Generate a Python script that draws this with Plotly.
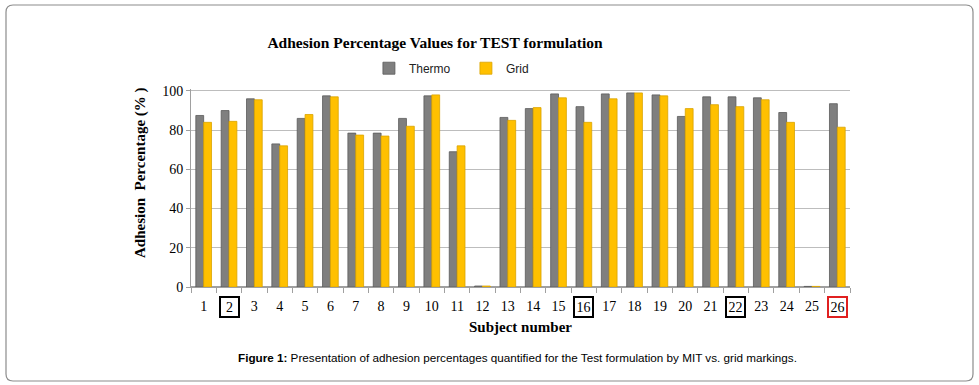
import plotly.graph_objects as go

subjects = [str(i) for i in range(1, 27)]
thermo = [87.5, 90, 96, 73, 86, 97.5, 78.5, 78.5, 86, 97.5, 69, 0.5, 86.5, 91,
          98.5, 92, 98.5, 99, 98, 87, 97, 97, 96.5, 89, 0.3, 93.5]
grid = [84, 84.5, 95.5, 72, 88, 97, 77.5, 77, 82, 98, 72, 0.5, 85, 91.5,
        96.5, 84, 96, 99, 97.5, 91, 93, 92, 95.5, 84, 0.3, 81.5]
boxed_black = ["2", "16", "22"]
boxed_red = ["26"]
y_ticks = [0, 20, 40, 60, 80, 100]

SERIF = "Liberation Serif, Times New Roman, serif"
SANS = "Liberation Sans, Arial, sans-serif"

fig = go.Figure()
fig.add_trace(go.Bar(x=subjects, y=thermo, name="Thermo",
                     marker=dict(color="#7F7F7F", line=dict(color="#5A5A5A", width=0.8))))
fig.add_trace(go.Bar(x=subjects, y=grid, name="Grid",
                     marker=dict(color="#FFC000", line=dict(color="#D9A300", width=0.8))))

ticktext = [" " if s in boxed_black + boxed_red else s for s in subjects]

fig.update_layout(
    width=979, height=385,
    margin=dict(l=191, r=129, t=89, b=98, autoexpand=False),
    paper_bgcolor="white", plot_bgcolor="white",
    barmode="group", bargap=0.38, bargroupgap=0.0,
    showlegend=True,
    legend=dict(orientation="h", x=0.27, y=1.105, xanchor="left", yanchor="middle",
                entrywidth=52, font=dict(family=SANS, size=12, color="#222"),
                bgcolor="rgba(0,0,0,0)", itemclick=False),
    title=dict(text="<b>Adhesion Percentage Values for TEST formulation</b>",
               x=435 / 979, xanchor="center", y=1 - 43 / 385, yanchor="middle",
               font=dict(family=SERIF, size=15.5, color="black")),
    xaxis=dict(tickmode="array", tickvals=subjects, ticktext=ticktext,
               tickfont=dict(family=SERIF, size=14, color="black"),
               showline=True, linecolor="#A0A0A0", linewidth=1,
               ticks="outside", tickson="boundaries", ticklen=5, tickcolor="#A0A0A0",
               ticklabelstandoff=6,
               showgrid=False, automargin=False,
               title=dict(text="<b>Subject number</b>", standoff=8,
                          font=dict(family=SERIF, size=15, color="black"))),
    yaxis=dict(range=[0, 101], tickvals=y_ticks, automargin=False,
               tickfont=dict(family=SERIF, size=14, color="black"),
               showline=True, linecolor="#A0A0A0", linewidth=1,
               ticks="outside", ticklen=4, tickcolor="#A0A0A0",
               showgrid=True, gridcolor="#BDBDBD", gridwidth=1.2,
               zeroline=True, zerolinecolor="#A0A0A0"),
)

annotations = []
for i, s in enumerate(subjects):
    if s in boxed_black or s in boxed_red:
        label = s if len(s) > 1 else "&nbsp;" + s + "&nbsp;"
        annotations.append(dict(
            x=i, xref="x", y=-(307 - 287) / 198, yref="paper", text=label, showarrow=False,
            font=dict(family=SERIF, size=14, color="black"),
            bordercolor="#E02020" if s in boxed_red else "black",
            borderwidth=2, borderpad=1.5, yanchor="middle"))
annotations.append(dict(
    x=(140 - 191) / 659, xref="paper", xanchor="center",
    y=(287 - 173) / 198, yref="paper", yanchor="middle", textangle=-90,
    showarrow=False, text="<b>Adhesion  Percentage (% )</b>",
    font=dict(family=SERIF, size=15, color="black")))
annotations.append(dict(
    x=485 / 979, xref="paper", xanchor="center", y=-(357 - 287) / 198, yref="paper",
    yanchor="middle", showarrow=False,
    text="<b>Figure 1:</b> Presentation of adhesion percentages quantified for the Test formulation by MIT vs. grid markings.",
    font=dict(family=SANS, size=11.7, color="black")))
fig.update_layout(annotations=annotations)

# outer rounded frame (pixel -> paper conversion)
def px(x):
    return (x - 191) / 659

def py(y):
    return (287 - y) / 198

L, R, T, B, r = 6, 973, 5, 381, 7
path = (f"M {px(L + r)},{py(T)} L {px(R - r)},{py(T)} "
        f"Q {px(R)},{py(T)} {px(R)},{py(T + r)} L {px(R)},{py(B - r)} "
        f"Q {px(R)},{py(B)} {px(R - r)},{py(B)} L {px(L + r)},{py(B)} "
        f"Q {px(L)},{py(B)} {px(L)},{py(B - r)} L {px(L)},{py(T + r)} "
        f"Q {px(L)},{py(T)} {px(L + r)},{py(T)} Z")
fig.add_shape(type="path", xref="paper", yref="paper", path=path,
              line=dict(color="#8C8C8C", width=1.2), layer="below")

fig.write_html("out.html", post_script="document.body.style.margin='0';",
               config={"displayModeBar": False})
